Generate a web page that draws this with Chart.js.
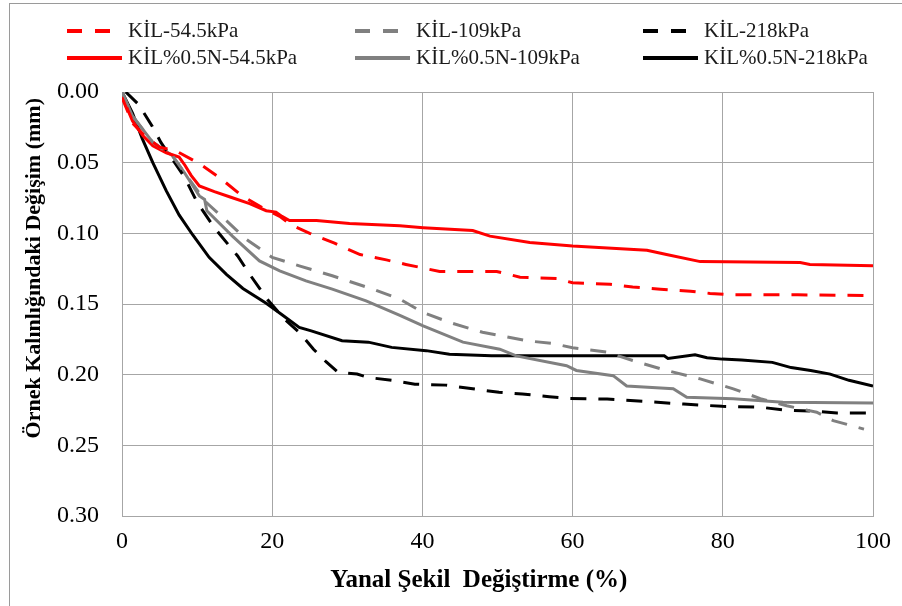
<!DOCTYPE html>
<html>
<head>
<meta charset="utf-8">
<script src="https://cdn.jsdelivr.net/npm/chart.js@4.4.1/dist/chart.umd.min.js"></script>
<style>
  html, body { margin: 0; padding: 0; background: #ffffff; }
  #wrap { position: relative; width: 902px; height: 606px; overflow: hidden; }
  #frame { position: absolute; left: 9px; top: 3px; width: 900px; height: 610px;
           border-top: 1px solid #9a9a9a; border-left: 1px solid #9a9a9a; }
  #c { position: absolute; left: 0; top: 0; }
</style>
</head>
<body>
<div id="wrap">
  <div id="frame"></div>
  <canvas id="c" width="902" height="606"></canvas>
</div>
<script>
// ---- Series labels ----
const seriesLabels = [
  "KİL-54.5kPa", "KİL-109kPa", "KİL-218kPa",
  "KİL%0.5N-54.5kPa", "KİL%0.5N-109kPa", "KİL%0.5N-218kPa"
];

// ---- KİL-54.5kPa (red dashed) ----
const kil545X = [0, 1.4, 3, 5, 7.3, 10.4, 13.1, 16, 18.7, 21, 22.5, 25, 28.3, 31.7, 35.2, 37.8, 42.3, 49.9, 53, 57.9, 60, 65, 68, 71.7, 75.7, 78.3, 81, 90, 99.2, 100];
const kil545Y = [0.004, 0.022, 0.031, 0.039, 0.042, 0.051, 0.061, 0.0735, 0.082, 0.088, 0.094, 0.100, 0.107, 0.115, 0.1188, 0.122, 0.127, 0.127, 0.131, 0.132, 0.135, 0.136, 0.138, 0.1395, 0.141, 0.1425, 0.1435, 0.1435, 0.144, 0.145];

// ---- KİL-109kPa (grey dashed) ----
const kil109X = [0, 1.4, 4.1, 6.7, 8.3, 11.2, 13.9, 16.5, 20, 23.6, 28, 33.4, 37, 40.1, 43.6, 48, 53.9, 57.4, 60, 64.5, 68, 72.5, 77, 81.4, 85, 88.5, 92.5, 94.7, 98.8];
const kil109Y = [0, 0.017, 0.0356, 0.045, 0.057, 0.078, 0.091, 0.104, 0.117, 0.123, 0.130, 0.1395, 0.1466, 0.156, 0.163, 0.170, 0.176, 0.178, 0.181, 0.184, 0.190, 0.197, 0.203, 0.210, 0.217, 0.222, 0.2266, 0.2325, 0.2385];

// ---- KİL-218kPa (black dashed) ----
const kil218X = [0.5, 2.2, 4.0, 5.2, 8.3, 10.0, 12.3, 15.4, 17, 19.4, 21.7, 23.6, 25.5, 27.2, 28.8, 31.3, 32.8, 35.9, 39, 43.1, 46.7, 50.2, 53.3, 56.9, 59.5, 64.6, 69.7, 74.8, 79.9, 85, 88.1, 92.7, 95.2, 100];
const kil218Y = [0, 0.0088, 0.024, 0.0358, 0.060, 0.078, 0.096, 0.116, 0.129, 0.147, 0.161, 0.170, 0.182, 0.191, 0.1985, 0.1996, 0.202, 0.204, 0.2067, 0.2074, 0.210, 0.2125, 0.2137, 0.2156, 0.2168, 0.2173, 0.219, 0.2208, 0.2224, 0.223, 0.225, 0.226, 0.2272, 0.2272];

// ---- KİL%0.5N-54.5kPa (red solid) ----
const kiln545X = [0, 1.4, 2.8, 4.1, 5.9, 7.6, 8.4, 9.2, 10.3, 12.3, 14.5, 17, 19.2, 20.5, 21.3, 22.3, 25.9, 30.3, 37, 40.1, 46.7, 49, 54.3, 60, 69.9, 72.5, 77, 90.3, 91.6, 100];
const kiln545Y = [0.003, 0.0205, 0.031, 0.038, 0.043, 0.046, 0.052, 0.059, 0.0665, 0.0705, 0.0745, 0.079, 0.084, 0.085, 0.088, 0.091, 0.091, 0.093, 0.0947, 0.096, 0.098, 0.102, 0.1065, 0.109, 0.112, 0.115, 0.120, 0.1207, 0.122, 0.123];

// ---- KİL%0.5N-109kPa (grey solid) ----
const kiln109X = [0, 1.4, 4.1, 6.7, 8.3, 10.3, 11.0, 11.3, 14.7, 18.3, 21, 24.5, 28, 32.5, 37, 40.1, 45.4, 50.3, 52.5, 59.2, 60.5, 65.4, 67.2, 73.4, 75.2, 81.4, 88, 100];
const kiln109Y = [0, 0.017, 0.0356, 0.045, 0.057, 0.0735, 0.076, 0.084, 0.102, 0.1195, 0.1265, 0.1336, 0.1395, 0.1478, 0.158, 0.1655, 0.177, 0.182, 0.1867, 0.1937, 0.197, 0.2007, 0.208, 0.210, 0.216, 0.217, 0.2196, 0.220];

// ---- KİL%0.5N-218kPa (black solid) ----
const kiln218X = [0, 1.4, 2.7, 4.1, 5.9, 7.6, 9.4, 11.6, 13.9, 16.1, 19.2, 21.4, 23.6, 25.2, 29.3, 32.8, 35.9, 40.5, 43.6, 49.2, 72.2, 72.7, 76.3, 77.9, 79.9, 82.5, 86.6, 89.1, 91.7, 94.3, 96.8, 100];
const kiln218Y = [0, 0.015, 0.033, 0.050, 0.070, 0.087, 0.101, 0.117, 0.129, 0.139, 0.1495, 0.158, 0.1666, 0.169, 0.176, 0.177, 0.1807, 0.183, 0.1855, 0.1867, 0.1867, 0.1885, 0.186, 0.188, 0.189, 0.1897, 0.1913, 0.195, 0.197, 0.1996, 0.204, 0.208];

// ---- Axis ticks / titles ----
const xTickValues = [0, 20, 40, 60, 80, 100];
const yTickValues = [0.00, 0.05, 0.10, 0.15, 0.20, 0.25, 0.30];
const xTitle = "Yanal Şekil  Değiştirme (%)";
const yTitle = "Örnek Kalınlığındaki Değişim (mm)";

function pts(xs, ys) { return xs.map((x, i) => ({ x: x, y: ys[i] })); }

const RED = "#ff0000", GREY = "#808080", BLACK = "#000000";
const DASH = [16, 12];

const datasets = [
  { label: seriesLabels[0], data: pts(kil545X, kil545Y), borderColor: RED, borderDash: DASH },
  { label: seriesLabels[1], data: pts(kil109X, kil109Y), borderColor: GREY, borderDash: DASH },
  { label: seriesLabels[2], data: pts(kil218X, kil218Y), borderColor: BLACK, borderDash: DASH },
  { label: seriesLabels[3], data: pts(kiln545X, kiln545Y), borderColor: RED, borderDash: [] },
  { label: seriesLabels[4], data: pts(kiln109X, kiln109Y), borderColor: GREY, borderDash: [] },
  { label: seriesLabels[5], data: pts(kiln218X, kiln218Y), borderColor: BLACK, borderDash: [] }
].map(d => Object.assign(d, {
  borderWidth: 3, pointRadius: 0, tension: 0, fill: false,
  backgroundColor: d.borderColor, borderCapStyle: 'butt'
}));

const serif = "'Liberation Serif', 'Times New Roman', serif";

// custom legend: 3 columns x 2 rows, drawn from the chart's datasets
const legendPlugin = {
  id: 'gridLegend',
  afterDraw(chart) {
    const ctx = chart.ctx;
    const colX = [67, 355, 643];
    const rowY = [31, 58];
    const sampleLen = 55;
    ctx.save();
    chart.data.datasets.forEach((ds, i) => {
      const cx = colX[i % 3], cy = rowY[Math.floor(i / 3)];
      ctx.beginPath();
      ctx.setLineDash(ds.borderDash && ds.borderDash.length ? [15, 13] : []);
      ctx.lineWidth = 4;
      ctx.strokeStyle = ds.borderColor;
      ctx.moveTo(cx, cy);
      ctx.lineTo(cx + sampleLen, cy);
      ctx.stroke();
      ctx.setLineDash([]);
      ctx.fillStyle = "#1a1a1a";
      ctx.font = "21px " + serif;
      ctx.textBaseline = "middle";
      ctx.textAlign = "left";
      ctx.fillText(ds.label, cx + sampleLen + 6, cy);
    });
    ctx.restore();
  }
};

new Chart(document.getElementById('c'), {
  type: 'line',
  data: { datasets: datasets },
  plugins: [legendPlugin],
  options: {
    responsive: false,
    animation: false,
    devicePixelRatio: 1,
    layout: { padding: { top: 92, right: 29, left: 0, bottom: 0 } },
    plugins: { legend: { display: false }, tooltip: { enabled: false } },
    scales: {
      x: {
        type: 'linear', min: 0, max: 100,
        afterBuildTicks(scale) { scale.ticks = xTickValues.map(v => ({ value: v })); },
        afterFit(scale) { scale.height = 90; },
        grid: { color: '#a6a6a6', lineWidth: 1, drawTicks: false },
        border: { color: '#a6a6a6', width: 1 },
        ticks: { color: '#000', padding: 11, font: { family: serif, size: 24 }, maxRotation: 0 },
        title: { display: true, text: xTitle + "      ", color: '#000',
                 font: { family: serif, size: 25, weight: 'bold' }, padding: { top: 0, bottom: 10 } }
      },
      y: {
        type: 'linear', min: 0, max: 0.30, reverse: true,
        afterBuildTicks(scale) { scale.ticks = yTickValues.map(v => ({ value: v })); },
        afterFit(scale) { scale.width = 122; },
        grid: { color: '#a6a6a6', lineWidth: 1, drawTicks: false },
        border: { color: '#a6a6a6', width: 1 },
        ticks: { color: '#000', padding: 23, font: { family: serif, size: 24 },
                 callback: v => Number(v).toFixed(2) },
        title: { display: true, text: "             " + yTitle, color: '#000',
                 font: { family: serif, size: 22, weight: 'bold' }, padding: { top: 21, bottom: 0 } }
      }
    }
  }
});
</script>
</body>
</html>
